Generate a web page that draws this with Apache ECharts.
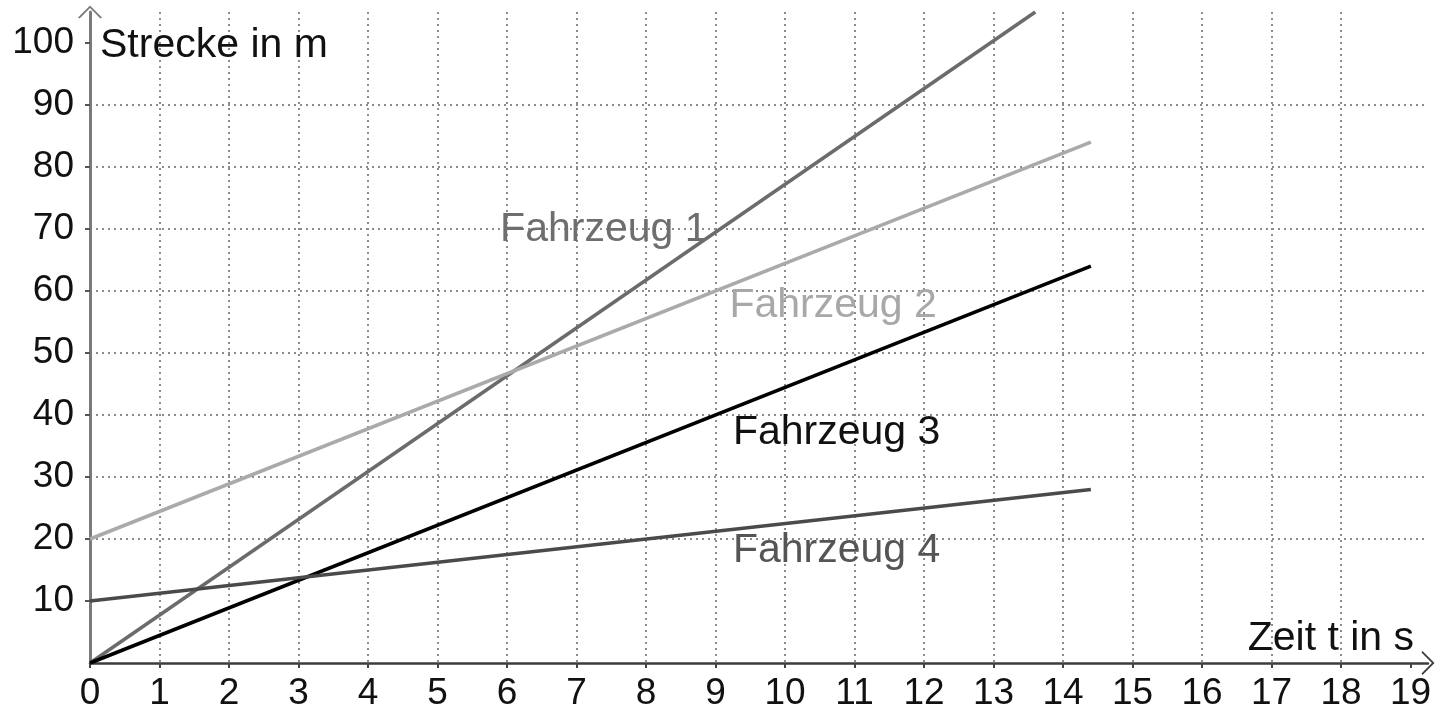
<!DOCTYPE html>
<html>
<head>
<meta charset="utf-8">
<script src="https://cdn.jsdelivr.net/npm/echarts@6/dist/echarts.min.js"></script>
<style>
  html, body { margin: 0; padding: 0; background: #fff; }
  #myChart { width: 1438px; height: 714px; }
</style>
</head>
<body>
<div id="myChart"></div>
<script>
  // Strecke-Zeit Werte (t in s, Strecke in m)
  const fahrzeug1 = [[0, 0], [13.6, 105]];
  const fahrzeug2 = [[0, 20], [14.4, 84]];
  const fahrzeug3 = [[0, 0], [14.4, 64]];
  const fahrzeug4 = [[0, 10], [14.4, 28]];
  const names = ['Fahrzeug 1', 'Fahrzeug 2', 'Fahrzeug 3', 'Fahrzeug 4'];
  const namePos = [[5.9, 69.9], [9.2, 57.7], [9.25, 37.1], [9.25, 18.1]];
  const xTicks = [0, 1, 2, 3, 4, 5, 6, 7, 8, 9, 10, 11, 12, 13, 14, 15, 16, 17, 18, 19];
  const yTicks = [10, 20, 30, 40, 50, 60, 70, 80, 90, 100];

  const lineColors = ['#6b6b6b', '#aaaaaa', '#000000', '#4a4a4a'];
  const textColors = ['#6e6e6e', '#a8a8a8', '#111111', '#555555'];
  const font = '"Liberation Sans", Arial, sans-serif';
  const chevron = 'path://M0,12 L12,0 L24,12 L22.4,13 L12,2.6 L1.6,13 Z';

  let myChart = echarts.init(document.getElementById('myChart'));

  const makeSeries = (data, i) => ({
    name: names[i],
    type: 'line',
    data: data,
    showSymbol: false,
    symbol: 'none',
    lineStyle: { color: lineColors[i], width: 3.5 },
    markPoint: {
      symbol: 'circle',
      symbolSize: 0,
      data: [{ coord: namePos[i] }],
      label: {
        show: true,
        position: 'right',
        distance: 0,
        formatter: names[i],
        color: textColors[i],
        fontSize: 41,
        fontFamily: font
      }
    }
  });

  let option = {
    animation: false,
    grid: { left: 90, right: 10, top: 12, bottom: 51, containLabel: false, outerBoundsMode: 'none' },
    xAxis: {
      type: 'value',
      min: 0,
      max: 19.25,
      interval: 1,
      name: 'Zeit t in s',
      nameLocation: 'end',
      nameGap: -14,
      nameTextStyle: {
        align: 'right', verticalAlign: 'bottom', fontSize: 41, lineHeight: 41,
        color: '#111', fontFamily: font, padding: [0, 0, 4, 0]
      },
      axisLine: {
        lineStyle: { color: '#3c3c3c', width: 2.5 },
        symbol: ['none', chevron],
        symbolSize: [24, 13]
      },
      axisTick: { show: true, length: 5, customValues: xTicks, lineStyle: { color: '#444', width: 2 } },
      axisLabel: { customValues: xTicks, margin: 12, fontSize: 37, color: '#111', fontFamily: font },
      splitLine: {
        show: true, showMinLine: false, showMaxLine: false,
        lineStyle: { color: '#8c8c8c', width: 2, type: [2, 4] }
      }
    },
    yAxis: {
      type: 'value',
      min: 0,
      max: 105,
      interval: 10,
      name: 'Strecke in m',
      nameLocation: 'end',
      nameGap: -34,
      nameTextStyle: {
        align: 'left', verticalAlign: 'middle', fontSize: 41,
        color: '#111', fontFamily: font, padding: [0, 0, 0, 10]
      },
      axisLine: {
        show: true,
        lineStyle: { color: '#7a7a7a', width: 3 },
        symbol: ['none', chevron],
        symbolSize: [24, 13]
      },
      axisTick: { show: true, length: 5, customValues: yTicks, lineStyle: { color: '#555', width: 2 } },
      axisLabel: { customValues: yTicks, margin: 16, fontSize: 37, color: '#111', fontFamily: font },
      splitLine: {
        show: true, showMinLine: false, showMaxLine: false,
        lineStyle: { color: '#8c8c8c', width: 2, type: [2, 4] }
      }
    },
    series: [fahrzeug1, fahrzeug2, fahrzeug3, fahrzeug4].map(makeSeries)
  };

  myChart.setOption(option);
</script>
</body>
</html>
